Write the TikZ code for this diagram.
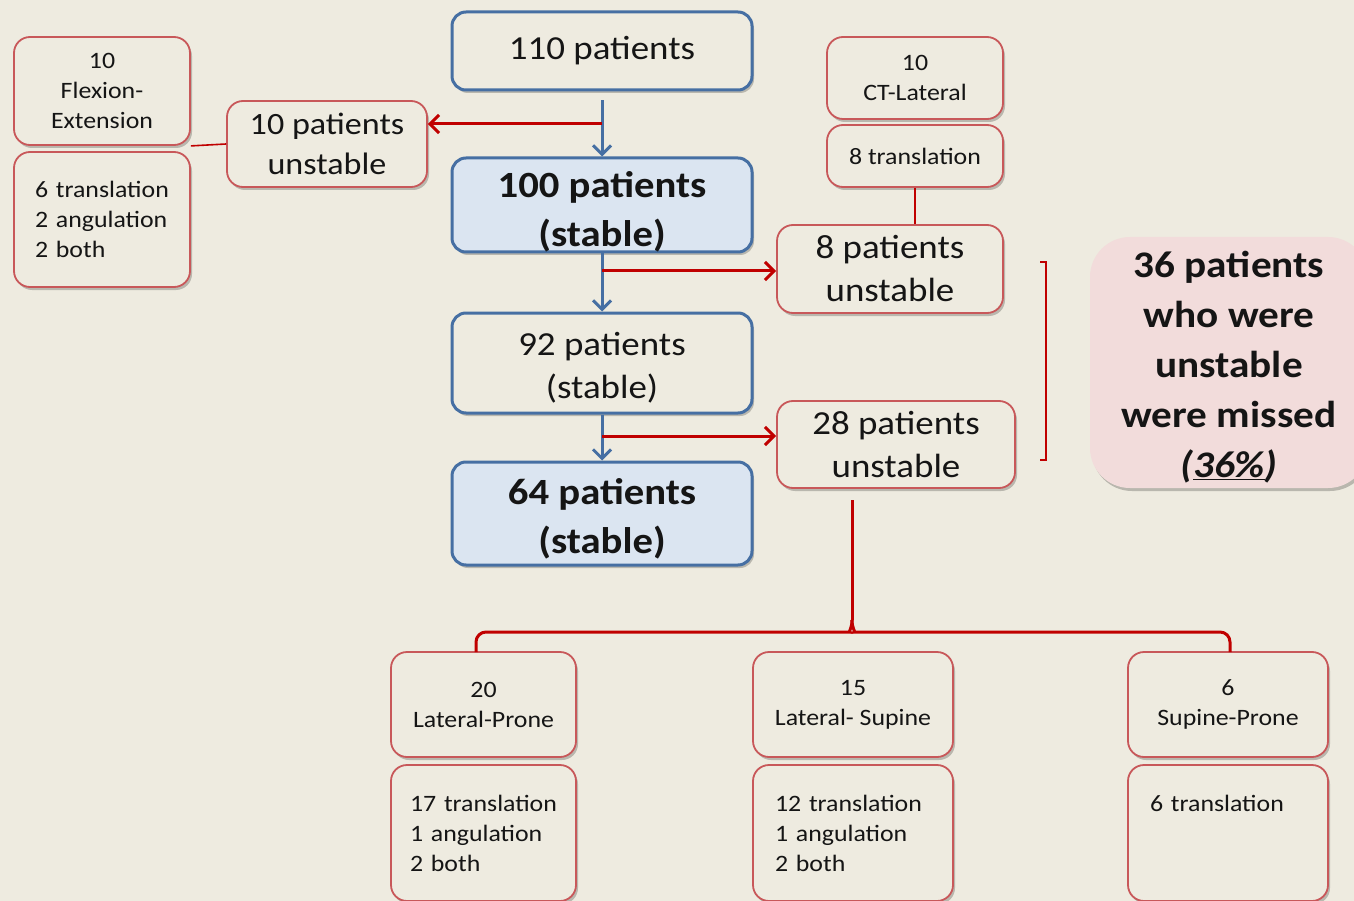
\documentclass[tikz,border=0pt]{standalone}
\usepackage{fontspec}
\setmainfont{Carlito}[FakeStretch=1.1]
\usetikzlibrary{arrows.meta,shadows}
\definecolor{bg}{HTML}{EEEBE0}
\definecolor{boxblue}{HTML}{466FA3}
\definecolor{lightblue}{HTML}{DBE5F1}
\definecolor{boxred}{HTML}{C8585A}
\definecolor{arrred}{HTML}{C00000}
\definecolor{pinkfill}{HTML}{F2DCDB}
\definecolor{txt}{HTML}{151515}
\newcommand\fsA{\fontsize{33.6}{43}\selectfont}
\newcommand\fsB{\fontsize{37}{49}\selectfont\bfseries}
\newcommand\fsU{\fontsize{31}{40}\selectfont}
\newcommand\fsM{\fontsize{37.5}{50}\selectfont\bfseries}
\newcommand\fsS{\fontsize{23.5}{30}\selectfont}
\newcommand\lowr[1]{\rule{0pt}{#1}}
\tikzset{
  shadowed/.style={drop shadow={shadow xshift=2pt,shadow yshift=-3pt,opacity=0.22,fill=black}},
  bluebox/.style={draw=boxblue,line width=3pt,rounded corners=14pt,fill=bg,text=txt,align=center,inner sep=0pt,shadowed},
  bluefilled/.style={bluebox,fill=lightblue},
  redbox/.style={draw=boxred,line width=1.8pt,rounded corners=16pt,fill=bg,text=txt,align=center,inner sep=0pt,shadowed},
  missbox/.style={fill=pinkfill,rounded corners=40pt,text=txt,align=center,inner sep=0pt,shadowed},
  bluearrow/.style={draw=boxblue,line width=3pt,-{Straight Barb[length=9pt,width=18pt,line width=3pt]}},
  redarrow/.style={draw=arrred,line width=3pt,-{Straight Barb[length=9pt,width=18pt,line width=3pt]}},
  redline/.style={draw=arrred,line width=3pt},
  thinred/.style={draw=arrred,line width=1.6pt},
}
\begin{document}
\begin{tikzpicture}[x=1pt,y=-1pt]
\useasboundingbox[fill=bg] (0,0) rectangle (1354,901);
\clip (0,0) rectangle (1354,901);
% main column
\node[bluebox,font=\fsA,minimum width=300pt,minimum height=78pt] (n110) at (602,51) {110 patients};
\node[bluefilled,font=\fsB,minimum width=300pt,minimum height=94pt] (n100) at (602,205) {\lowr{1.05em}100 patients\\(stable)};
\node[bluebox,font=\fsA,minimum width=300pt,minimum height=100pt] (n92) at (602,363) {\lowr{1.0em}92 patients\\(stable)};
\node[bluefilled,font=\fsB,minimum width=300pt,minimum height=103pt] (n64) at (602,513.5) {\lowr{1.0em}64 patients\\(stable)};
% left group
\node[redbox,font=\fsU,minimum width=200pt,minimum height=86pt] (u10) at (327,144) {10 patients\\unstable};
\node[redbox,font=\fsS,minimum width=176pt,minimum height=108pt] (flex) at (102,91) {10\\Flexion-\\Extension};
\node[redbox,font=\fsS,minimum width=176pt,minimum height=135pt,text width=134pt,align=left] (flexd) at (102,219.5) {6 translation\\2 angulation\\2 both};
% right upper group
\node[redbox,font=\fsS,minimum width=176pt,minimum height=82pt] (ct) at (915,78) {10\\CT-Lateral};
\node[redbox,font=\fsS,minimum width=176pt,minimum height=62pt] (ct8) at (915,156) {8 translation};
\node[redbox,font=\fsA,minimum width=226pt,minimum height=88pt] (u8) at (890,269) {8 patients\\unstable};
\node[redbox,font=\fsA,minimum width=238pt,minimum height=87pt] (u28) at (896,444.5) {28 patients\\unstable};
% missed
\node[missbox,font=\fsM,minimum width=278pt,minimum height=251pt] (miss) at (1229,362.5) {\lowr{0.95em}36 patients\\who were\\unstable\\were missed\\\textit{(\underline{36\%})}};
% bottom groups
\node[redbox,font=\fsS,minimum width=185pt,minimum height=105pt] (lp) at (483.5,704.5) {20\\Lateral-Prone};
\node[redbox,font=\fsS,minimum width=185pt,minimum height=136pt,text width=147pt,align=left] (lpd) at (483.5,833) {17 translation\\1 angulation\\2 both};
\node[redbox,font=\fsS,minimum width=200pt,minimum height=105pt] (ls) at (853,704.5) {15\\Lateral- Supine};
\node[redbox,font=\fsS,minimum width=200pt,minimum height=136pt,text width=156pt,align=left] (lsd) at (853,833) {12 translation\\1 angulation\\2 both};
\node[redbox,font=\fsS,minimum width=200pt,minimum height=105pt] (sp) at (1228,704.5) {6\\Supine-Prone};
\node[redbox,font=\fsS,minimum width=200pt,minimum height=136pt,text width=156pt,align=left] (spd) at (1228,833) {6 translation\\\mbox{}\\\mbox{}};
% blue flow
\draw[bluearrow,shorten <=9pt] (n110.south) -- (n100.north);
\draw[bluearrow] (n100.south) -- (n92.north);
\draw[bluearrow] (n92.south) -- (n64.north);
% red side arrows
\coordinate (a1) at (602,124);
\draw[redarrow] (a1) -- (u10.east |- a1);
\coordinate (a2) at (602,271);
\draw[redarrow] (a2) -- (u8.west |- a2);
\coordinate (a3) at (602,436);
\draw[redarrow] (a3) -- (u28.west |- a3);
% thin links
\draw[thinred] (flex.south east) -- (u10.west);
\draw[thinred] (ct8.south) -- (ct8.south |- u8.north);
% bracket
\draw[thinred,line width=2.2pt] (1040,262) -- (1046,262) -- (1046,460) -- (1040,460);
% brace to bottom
\coordinate (bt) at (852,500);
\coordinate (btip) at (852,620);
\draw[redline] (bt) -- (btip);
\draw[redline,rounded corners=10pt] (btip) .. controls (852,629) and (848,632) .. (840,632) -- (476,632) -- (476,652);
\draw[redline,rounded corners=10pt] (btip) .. controls (852,629) and (856,632) .. (864,632) -- (1230,632) -- (1230,652);
\end{tikzpicture}
\end{document}
